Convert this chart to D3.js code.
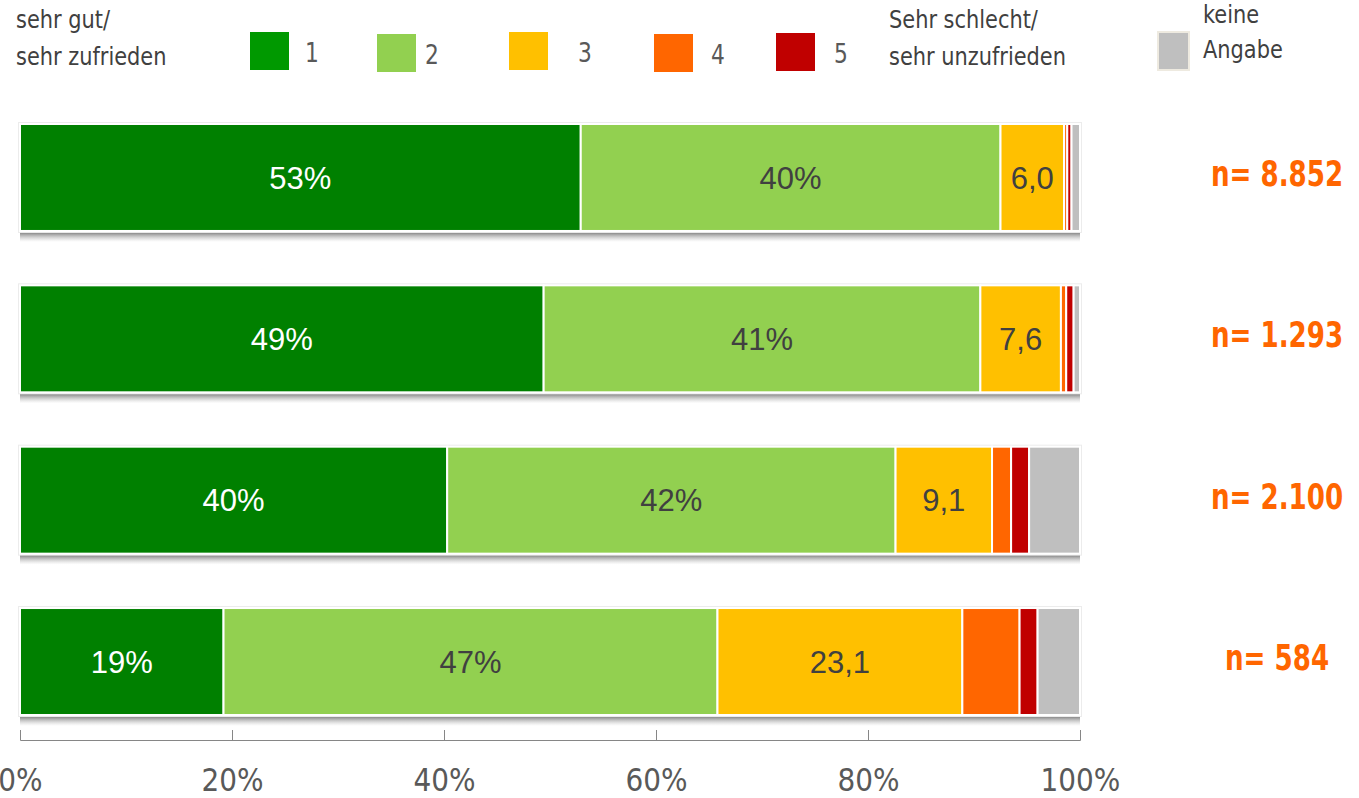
<!DOCTYPE html>
<html>
<head>
<meta charset="utf-8">
<script src="https://cdn.jsdelivr.net/npm/d3@7"></script>
<style>
  body { margin: 0; background: #fff; }
  svg { display: block; }
  .narrow { font-family: "Liberation Sans Narrow", "DejaVu Sans Condensed", "Arial Narrow", sans-serif; }
</style>
</head>
<body>
<div id="wrapper"></div>
<script>
// categories (one row per group, labelled by sample size)
var rows = ["n= 8.852", "n= 1.293", "n= 2.100", "n= 584"]
var keys = ["1", "2", "3", "4", "5", "keine Angabe"]

// shares in percent, per rating
var s1 = [52.9, 49.4, 40.3, 19.2]
var s2 = [39.6, 41.2, 42.3, 46.6]
var s3 = [6.0, 7.6, 9.1, 23.1]
var s4 = [0.3, 0.5, 1.8, 5.4]
var s5 = [0.4, 0.7, 1.7, 1.7]
var sk = [0.8, 0.6, 4.8, 4.0]

var xTicks = [0, 20, 40, 60, 80, 100]

var colors = ["#008000", "#92D050", "#FFC000", "#FF6600", "#C00000", "#BFBFBF"]
var legendColors = ["#009900", "#92D050", "#FFC000", "#FF6600", "#C00000", "#BFBFBF"]

var table = rows.map((r, i) => ({
    row: r,
    "1": s1[i], "2": s2[i], "3": s3[i], "4": s4[i], "5": s5[i], "keine Angabe": sk[i]
}))

var de = d3.formatLocale({decimal: ",", thousands: ".", grouping: [3], currency: ["", "€"]})
var fmtPct = d => de.format(".0f")(d) + "%"
var fmtDec = de.format(".1f")

var width = 1359, height = 798

var svg = d3.select("#wrapper").append("svg")
    .attr("width", width)
    .attr("height", height)

// squeeze a text horizontally, the installed condensed font is wider than the original
function squeeze(sel, xf, yf, sx) {
    sel.attr("transform", (d, i) => `translate(${xf(d, i)},${yf(d, i)}) scale(${sx},1)`)
}

var defs = svg.append("defs")
var grad = defs.append("linearGradient")
    .attr("id", "shadow")
    .attr("x1", 0).attr("y1", 0).attr("x2", 0).attr("y2", 1)
grad.append("stop").attr("offset", "0%").attr("stop-color", "#6f6f6f").attr("stop-opacity", 0.95)
grad.append("stop").attr("offset", "100%").attr("stop-color", "#bfbfbf").attr("stop-opacity", 0)

var x = d3.scaleLinear().domain([0, 100]).range([20, 1080])
var y = d3.scaleBand().domain(rows).range([124, 715]).paddingInner(0.337).paddingOuter(0)
var color = d3.scaleOrdinal().domain(keys).range(colors)

var series = d3.stack().keys(keys)(table)

// shadows under each bar
svg.append("g")
    .selectAll("rect")
    .data(rows)
    .join("rect")
    .attr("x", x(0))
    .attr("y", d => y(d) + y.bandwidth() + 1)
    .attr("width", x(100) - x(0))
    .attr("height", 10)
    .attr("fill", "url(#shadow)")

// bar outline
svg.append("g")
    .selectAll("rect")
    .data(rows)
    .join("rect")
    .attr("x", x(0) - 1)
    .attr("y", d => y(d) - 1)
    .attr("width", x(100) - x(0) + 2)
    .attr("height", y.bandwidth() + 2)
    .attr("fill", "none")
    .attr("stroke", "#ececec")
    .attr("stroke-width", 2)

var layer = svg.append("g")
    .selectAll("g")
    .data(series)
    .join("g")
    .attr("fill", d => color(d.key))

layer.selectAll("rect")
    .data(d => d)
    .join("rect")
    .attr("x", d => x(d[0]))
    .attr("y", d => y(d.data.row))
    .attr("width", d => Math.max(0, x(d[1]) - x(d[0])))
    .attr("height", y.bandwidth())
    .attr("stroke", "#fff")
    .attr("stroke-width", 2)

// segment labels for ratings 1-3
series.slice(0, 3).forEach((s, k) => {
    svg.append("g")
        .selectAll("text")
        .data(s)
        .join("text")
        .attr("x", d => (x(d[0]) + x(d[1])) / 2)
        .attr("y", d => y(d.data.row) + y.bandwidth() / 2)
        .attr("dy", "0.36em")
        .attr("text-anchor", "middle")
        .attr("font-family", "Liberation Sans, Arial, sans-serif")
        .attr("font-size", 31)
        .attr("fill", k == 0 ? "#ffffff" : "#404040")
        .text(d => k == 2 ? fmtDec(d[1] - d[0]) : fmtPct(d[1] - d[0]))
})

// sample size labels
svg.append("g")
    .selectAll("text")
    .data(rows)
    .join("text")
    .attr("class", "narrow")
    .attr("dy", "0.36em")
    .attr("text-anchor", "middle")
    .attr("font-size", 35)
    .attr("font-weight", "bold")
    .attr("fill", "#FF6600")
    .text(d => d)
    .call(squeeze, () => 1277, d => y(d) + y.bandwidth() / 2 - 4, 0.83)

// x axis, ticks pointing up
var axis = svg.append("g")
    .attr("transform", "translate(0,740)")
    .call(d3.axisBottom(x)
        .tickValues(xTicks)
        .tickFormat(d => d + "%")
        .tickSizeInner(-10)
        .tickSizeOuter(-10)
        .tickPadding(28))
axis.select(".domain").attr("stroke", "#868686")
axis.selectAll(".tick line").attr("stroke", "#868686")
axis.selectAll(".tick text")
    .attr("class", "narrow")
    .attr("font-size", 32)
    .attr("fill", "#595959")
    .attr("transform", "scale(0.97,1)")

// legend
var legend = svg.append("g").attr("class", "narrow").attr("fill", "#404040").attr("font-size", 25)

var legendLines = [
    {t: "sehr gut/", x: 16, y: 28},
    {t: "sehr zufrieden", x: 16, y: 65},
    {t: "Sehr schlecht/", x: 889, y: 28},
    {t: "sehr unzufrieden", x: 889, y: 65},
    {t: "keine", x: 1203, y: 23},
    {t: "Angabe", x: 1203, y: 58}
]

legend.selectAll("text.cap")
    .data(legendLines)
    .join("text")
    .attr("class", "cap")
    .text(d => d.t)
    .call(squeeze, d => d.x, d => d.y, 0.93)

var legX = [250, 377, 509, 654, 776, 1158]
var legY = [32, 34, 32, 34, 33, 32]
var labX = [305, 425, 578, 711, 834]

legend.selectAll("rect")
    .data(keys)
    .join("rect")
    .attr("x", (d, i) => legX[i])
    .attr("y", (d, i) => legY[i])
    .attr("width", (d, i) => i == 5 ? 31 : 39)
    .attr("height", 38)
    .attr("fill", (d, i) => legendColors[i])
    .attr("stroke", (d, i) => i == 5 ? "#eeeae0" : "none")
    .attr("stroke-width", 2)

legend.selectAll("text.num")
    .data(keys.slice(0, 5))
    .join("text")
    .attr("class", "num")
    .attr("fill", "#595959")
    .attr("font-size", 26)
    .text(d => d)
    .call(squeeze, (d, i) => labX[i], (d, i) => legY[i] + 30, 0.93)
</script>
</body>
</html>
